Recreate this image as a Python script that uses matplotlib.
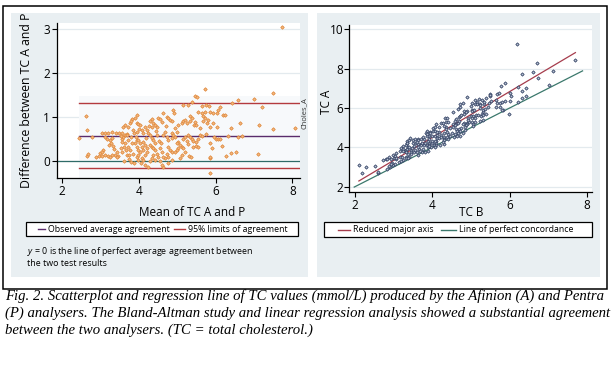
import numpy as np
import matplotlib
matplotlib.use("Agg")
import matplotlib.pyplot as plt
from matplotlib.patches import Rectangle
from matplotlib.lines import Line2D

# Bland-Altman points (mean of TC A and P, difference A - P)
mean_tc = [
    2.44, 2.61, 2.65, 2.65, 2.68, 2.78, 2.87, 2.96, 2.98,
    3.03, 3.11, 3.20, 3.07, 3.03, 3.03, 3.11, 3.20, 3.30, 3.39, 3.48,
    3.11, 3.17, 3.24, 3.29, 3.23, 3.27, 3.33, 3.36, 3.42, 3.38, 3.46, 3.42, 3.30, 3.25,
    3.55, 3.59, 3.63, 3.55, 3.64, 3.60, 3.66, 3.68, 3.55, 3.52,
    3.71, 3.77, 3.83, 3.90, 3.94, 3.79, 3.64, 3.59,
    3.85, 3.88, 3.91, 3.94, 3.90, 3.96, 3.98, 3.94, 3.98, 3.85, 3.77, 3.72, 3.72, 3.79,
    3.57, 3.68, 3.75, 3.80, 3.62, 3.70, 3.82, 3.86, 3.52, 3.75,
    3.94, 3.98, 4.03, 4.00, 4.07, 3.94, 4.11,
    4.33, 4.29, 4.37, 4.42, 4.46, 4.33, 4.50, 4.55,
    4.24, 4.29, 4.33, 4.37, 4.42, 4.29, 4.33, 4.37, 4.42, 4.46, 4.37, 4.33, 4.42, 4.50, 4.55,
    3.98, 4.02, 4.07, 4.11, 4.02, 3.98, 4.07, 4.11, 4.16, 4.20, 4.20, 4.16, 4.11,
    4.16, 4.24, 4.05, 4.20, 4.15, 4.25, 4.28, 4.48, 4.52, 4.45, 4.18,
    4.64, 4.72, 4.77, 4.81, 4.85, 4.90, 4.92,
    4.85, 4.90, 4.94, 4.85, 4.77, 4.72, 4.68, 4.64,
    4.77, 4.81, 4.85, 4.72, 4.77, 4.68, 4.64, 4.60, 4.55,
    4.64, 4.77, 4.85, 4.60,
    5.03, 5.07, 5.11, 5.03, 4.99, 4.94, 5.16, 5.20, 5.11, 5.07,
    5.03, 5.12, 5.16, 5.20, 4.70, 4.95, 5.00, 4.60, 4.58, 4.98,
    5.16, 5.29, 5.38, 5.45, 5.51, 5.72, 5.64, 5.74, 5.83,
    5.55, 5.64, 5.72, 5.85, 5.94, 6.03,
    5.33, 5.38, 5.25, 5.33, 5.46, 5.44, 5.50,
    5.68, 5.72, 5.68, 5.77, 5.81, 5.85, 5.94, 6.03,
    5.29, 5.33, 5.38, 5.42, 5.20, 5.16, 5.25, 5.42, 5.29, 5.55,
    5.49, 5.48, 5.85, 5.90, 5.85, 5.55, 5.85, 5.85,
    5.60, 5.65, 5.75, 5.95, 6.00, 5.60, 5.30, 5.35,
    6.20, 6.11, 6.06, 6.24, 6.44, 6.58, 7.01, 7.22, 7.49, 7.72,
    6.39, 6.64, 7.13, 7.49, 8.07,
    6.70, 6.58, 6.05, 6.12, 6.17, 6.31,
    6.27, 6.40, 6.52, 7.10,
]
diff_tc = [
    0.52, 1.02, 0.71, 0.11, 0.16, 0.55, 0.10, 0.11, 0.19,
    0.12, 0.13, 0.12, 0.25, 0.21, 0.63, 0.64, 0.63, 0.65, 0.64, 0.64,
    0.55, 0.50, 0.48, 0.52, 0.36, 0.40, 0.34, 0.27, 0.21, 0.14, 0.11, 0.08, 0.13, 0.10,
    0.50, 0.55, 0.59, 0.44, 0.40, 0.33, 0.25, 0.14, 0.21, 0.29,
    0.78, 0.86, 0.95, 0.99, 1.05, 0.90, 0.82, 0.78,
    0.71, 0.63, 0.55, 0.48, 0.40, 0.33, 0.25, 0.10, 0.02, 0.17, 0.25, 0.33, 0.48, 0.55,
    0.64, 0.62, 0.05, -0.03, 0.00, 0.60, 0.40, -0.05, 0.58, 0.13,
    0.87, 0.84, 0.82, 0.74, 0.71, 0.67, 0.63,
    0.95, 0.90, 0.86, 0.82, 0.78, 0.78, 0.99, 0.95,
    0.63, 0.59, 0.52, 0.48, 0.40, 0.36, 0.33, 0.29, 0.25, 0.17, 0.14, 0.06, 0.02, 0.10, -0.01,
    0.48, 0.40, 0.33, 0.25, 0.21, 0.14, 0.06, 0.02, 0.14, 0.21, 0.29, 0.36, 0.44,
    -0.09, -0.14, -0.04, 0.70, 0.78, 0.80, 0.00, 0.60, 0.45, 0.68, 0.52,
    1.09, 1.01, 0.97, 0.93, 0.90, 1.16, 1.09,
    0.63, 0.59, 0.55, 0.52, 0.48, 0.55, 0.67, 0.59,
    0.33, 0.25, 0.21, 0.17, 0.10, 0.06, 0.10, 0.21, 0.29,
    -0.13, -0.05, 0.02, -0.08,
    0.44, 0.36, 0.33, 0.29, 0.25, 0.21, 0.29, 0.21, 0.14, 0.06,
    0.82, 0.86, 0.90, 0.93, 0.80, 0.75, 0.65, 0.88, 0.40, 0.40,
    1.28, 1.28, 1.35, 1.47, 1.45, 1.63, 1.25, 1.28, 1.25,
    1.12, 1.10, 1.12, 1.12, 1.10, 1.10,
    1.03, 0.97, 0.86, 0.90, 0.88, 0.83, 0.83,
    1.03, 0.97, 0.90, 0.86, 0.93, 0.78, 0.86, 0.78,
    0.60, 0.54, 0.50, 0.46, 0.54, 0.50, 0.46, 0.33, 0.39, 0.50,
    0.44, 0.34, 0.40, 0.29, 0.06, 0.33, -0.28, 0.10,
    0.60, 0.58, 0.62, 0.55, 0.50, 0.75, 0.12, 0.08,
    1.05, 1.23, 1.16, 1.05, 1.33, 1.39, 1.41, 1.22, 1.56, 3.05,
    0.75, 0.86, 0.82, 0.74, 0.75,
    0.58, 0.54, 0.50, 0.50, 0.34, 0.58,
    0.11, 0.19, 0.21, 0.16,
]

# agreement lines (left panel)
mean_diff = 0.56
loa_upper = 1.31
loa_lower = -0.17

# reduced major axis fit and line of perfect concordance (right panel)
rma_slope = 1.165
rma_intercept = -0.157
concord_x = [1.98, 7.88]

left_xticks = [2, 4, 6, 8]
left_yticks = [0, 1, 2, 3]
right_xticks = [2, 4, 6, 8]
right_yticks = [2, 4, 6, 8, 10]

caption_lines = [
    "Fig. 2. Scatterplot and regression line of TC values (mmol/L) produced by the Afinion (A) and Pentra",
    "(P) analysers. The Bland-Altman study and linear regression analysis showed a substantial agreement",
    "between the two analysers. (TC = total cholesterol.)",
]

# individual readings recovered from mean and difference
mean_arr = np.array(mean_tc)
diff_arr = np.array(diff_tc)
tc_a = mean_arr + diff_arr / 2
tc_b = mean_arr - diff_arr / 2

W, H = 612, 366
plt.rcParams["font.family"] = "Open Sans"
plt.rcParams["mathtext.fontset"] = "custom"
plt.rcParams["mathtext.it"] = "Open Sans:italic"
plt.rcParams["mathtext.rm"] = "Open Sans"

BG = "#e9eff2"
GRID = "#e3eaee"
ORANGE = "#e0883a"
NAVY = "#2f3f62"


def fx(px):
    return px / W


def fy(py):
    return 1 - py / H


def px_rect(x0, y0, x1, y1):
    return [x0 / W, 1 - y1 / H, (x1 - x0) / W, (y1 - y0) / H]


fig = plt.figure(figsize=(W / 100, H / 100), dpi=100)

# outer frame and panel backgrounds (kept under the axes)
fig.patches.append(Rectangle((fx(3), fy(289)), (607 - 3) / W, (289 - 6) / H,
                             transform=fig.transFigure, fill=False, ec="black", lw=1.1,
                             zorder=-2))
fig.patches.append(Rectangle((fx(11), fy(277)), (308 - 11) / W, (277 - 13) / H,
                             transform=fig.transFigure, fc=BG, ec="none", zorder=-2))
fig.patches.append(Rectangle((fx(317), fy(277)), (600 - 317) / W, (277 - 13) / H,
                             transform=fig.transFigure, fc=BG, ec="none", zorder=-2))


def style_axes(ax, xticks, yticks):
    ax.set_facecolor("white")
    for s in ["top", "right"]:
        ax.spines[s].set_visible(False)
    for s in ["left", "bottom"]:
        ax.spines[s].set_color("black")
        ax.spines[s].set_linewidth(0.9)
    ax.set_xticks(xticks)
    ax.set_yticks(yticks)
    ax.tick_params(length=3.5, width=0.8, labelsize=8.5, pad=1.5, colors="black")
    for t in yticks:
        ax.axhline(t, color=GRID, lw=0.9, zorder=0)


# left panel: Bland-Altman
ax1 = fig.add_axes(px_rect(57, 23, 300, 178))
ax1.set_xlim(1.862, 8.201)
ax1.set_ylim(-0.387, 3.143)
style_axes(ax1, left_xticks, left_yticks)
ax1.fill_between([min(mean_tc), 8.201], -0.387, 1.48, color="#f7f9fb", lw=0, zorder=0)
ax1.axhline(0, color="#2f6b68", lw=0.9, zorder=2)
ax1.plot([min(mean_tc), 8.201], [loa_upper, loa_upper], color="#b43a3e", lw=1.0, zorder=2)
ax1.plot([min(mean_tc), 8.201], [loa_lower, loa_lower], color="#b43a3e", lw=1.0, zorder=2)
ax1.plot([min(mean_tc), 8.201], [mean_diff, mean_diff], color="#5a2c6c", lw=1.0, zorder=2)
ax1.plot(mean_tc, diff_tc, ls="none", marker="D", ms=1.8, mfc="#f2b882",
         mec=ORANGE, mew=0.55, zorder=3, clip_on=False)
ax1.text(1.003, 0.42, "Choles_A", transform=ax1.transAxes, rotation=90,
         fontsize=5.5, color="#333333", ha="left", va="center")

# right panel: TC A vs TC B
ax2 = fig.add_axes(px_rect(349, 25, 592, 192))
ax2.set_xlim(1.845, 8.124)
ax2.set_ylim(1.73, 10.21)
style_axes(ax2, right_xticks, right_yticks)
ax2.tick_params(axis="y", pad=0.8)
bx = np.array([tc_b.min(), tc_b.max()])
ax2.plot(concord_x, concord_x, color="#3b786c", lw=0.9, zorder=2)
ax2.plot(bx, rma_intercept + rma_slope * bx, color="#a63c4c", lw=0.9, zorder=2)
ax2.plot(tc_b, tc_a, ls="none", marker="D", ms=1.7, mfc="#b9c1d1",
         mec=NAVY, mew=0.55, zorder=3)

# axis titles
fig.text(fx(27), fy(100), "Difference between TC A and P", rotation=90,
         fontsize=8.8, ha="center", va="center")
fig.text(fx(192), fy(212), "Mean of TC A and P", fontsize=8.5, ha="center", va="center")
fig.text(fx(326), fy(102), "TC A", rotation=90, fontsize=8.5, ha="center", va="center")
fig.text(fx(471), fy(212), "TC B", fontsize=8.5, ha="center", va="center")


def legend_box(x0, x1, y0, y1, entries):
    fig.patches.append(Rectangle((fx(x0), fy(y1)), (x1 - x0) / W, (y1 - y0) / H,
                                 transform=fig.transFigure, fc="white", ec="black", lw=0.9))
    yc = fy((y0 + y1) / 2)
    for lx0, lx1, color, label in entries:
        fig.lines.append(Line2D([fx(lx0), fx(lx1)], [yc, yc], transform=fig.transFigure,
                                color=color, lw=1.0))
        fig.text(fx(lx1 + 3), yc, label, fontsize=6.3, ha="left", va="center")


legend_box(26, 298, 222, 236, [
    (38, 45, "#5a2c6c", "Observed average agreement"),
    (174, 185, "#b43a3e", "95% limits of agreement"),
])
legend_box(324, 592, 222, 237, [
    (338, 350, "#a63c4c", "Reduced major axis"),
    (441, 456, "#3b786c", "Line of perfect concordance"),
])

fig.text(fx(27), fy(251), "$y$ = 0 is the line of perfect average agreement between",
         fontsize=6.4, ha="left", va="center")
fig.text(fx(27), fy(263), "the two test results", fontsize=6.4, ha="left", va="center")

# caption, sized so the widest line spans the frame width
cap_y = [296, 313, 330]
renderer = fig.canvas.get_renderer()
widths = []
for line in caption_lines[:2]:
    probe = fig.text(0, 0, line, fontsize=10, family="Liberation Serif", style="italic")
    widths.append(probe.get_window_extent(renderer).width)
    probe.remove()
cap_size = 10 * 604 / max(widths)
for line, y in zip(caption_lines, cap_y):
    fig.text(fx(5), fy(y), line, fontsize=cap_size, family="Liberation Serif",
             style="italic", ha="left", va="center")

fig.savefig("out.png", dpi=100)
